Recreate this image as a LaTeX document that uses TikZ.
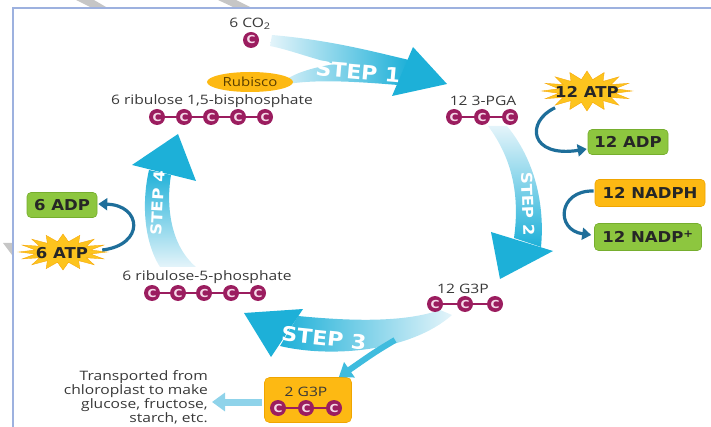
\documentclass[tikz,border=0pt]{standalone}
\usepackage{fontspec}
\setmainfont{Open Sans}[FakeStretch=1.2]
\newfontfamily\heavyfont{DejaVu Sans}[FakeStretch=1.1]
\usetikzlibrary{arrows.meta,calc,shapes.geometric}
\definecolor{StepBlue}{HTML}{1DB0D8}
\definecolor{StepPale}{HTML}{E4F4FA}
\definecolor{CarbonMagenta}{HTML}{9B1D5F}
\definecolor{CarbonPink}{HTML}{F5D9E8}
\definecolor{LeafGreen}{HTML}{8DC63F}
\definecolor{LeafEdge}{HTML}{76AE2E}
\definecolor{AmberOrange}{HTML}{FDB913}
\definecolor{AmberEdge}{HTML}{F0A500}
\definecolor{StarYellow}{HTML}{FDC41E}
\definecolor{StarEdge}{HTML}{F7A90A}
\definecolor{ArrowTeal}{HTML}{1E6E9A}
\definecolor{FrameBlue}{HTML}{9DB1DF}
\definecolor{LabelGray}{HTML}{383838}
\definecolor{RubiscoText}{HTML}{5A3E00}
\definecolor{ExportBlue}{HTML}{8FD3EA}

\tikzset{
  carbon/.style={circle,fill=CarbonMagenta,inner sep=0pt,minimum size=16pt,
    text=CarbonPink,font=\heavyfont\bfseries\fontsize{11}{11}\selectfont},
  chainline/.style={draw=CarbonMagenta,line width=1.2pt},
  molname/.style={text=LabelGray,inner sep=1pt,font=\fontsize{13}{14}\selectfont},
  energy/.style={rounded corners=4pt,inner sep=0pt,text=black!85,
    font=\heavyfont\bfseries\fontsize{15}{15}\selectfont},
  spent/.style={energy,fill=LeafGreen,draw=LeafEdge,line width=0.6pt},
  charged/.style={energy,fill=AmberOrange,draw=AmberEdge,line width=0.6pt},
  steplabel/.style={text=white,inner sep=0pt,font=\heavyfont\bfseries\fontsize{20}{20}\selectfont},
  cofactor/.style={draw=ArrowTeal,line width=3.2pt,-{Triangle[length=9pt,width=12pt]}},
}

% a row of carbon atoms: name, y, list of x
\newcommand{\carbons}[3]{%
  \foreach \cx [count=\ci] in {#3} {\node[carbon] (#1\ci) at (\cx,#2) {C};}
  \foreach \cx [count=\ci, remember=\ci as \cprev (initially 0)] in {#3} {%
    \ifnum\cprev>0 \draw[chainline] (#1\cprev) -- (#1\ci);\fi}
}
% starburst: x, y, rx, ry
\newcommand{\burst}[4]{%
  \fill[StarYellow,draw=StarEdge,line width=0.4pt] (#1+#3,#2)
    \foreach \k in {1,...,31} { -- ({#1+#3*(1-0.36*mod(\k,2))*cos(\k*11.25)},{#2+#4*(1-0.42*mod(\k,2))*sin(\k*11.25)}) } -- cycle;
}

\begin{document}
\begin{tikzpicture}[x=1pt,y=-1pt]
  \useasboundingbox (0,0) rectangle (711,427);
  % frame and scan marks
  \fill[gray!45] (76,0) -- (94,0) -- (106,7) -- (90,7) -- cycle;
  \fill[gray!45] (218,0) -- (236,0) -- (250,7) -- (233,7) -- cycle;
  \fill[gray!45] (3,243) -- (12,243) -- (12,255) -- cycle;
  \draw[FrameBlue,line width=2.2pt] (13,432) |- (716,8);

  % step 1
  \shade[left color=StepPale,right color=StepBlue]
    (272,35) .. controls (330,40) and (375,52) .. (409,60) -- (398,85)
    .. controls (360,82) and (310,78) .. (278,86)
    .. controls (290,74) and (310,68) .. (335,64)
    .. controls (310,58) and (290,50) .. (270,46) -- cycle;
  \fill[StepBlue] (413,47) -- (447,84) -- (392,96) -- cycle;
  % step 2
  \shade[top color=StepPale,bottom color=StepBlue]
    (488,126) -- (507,126) .. controls (535,160) and (545,205) .. (541,247)
    -- (514,238) .. controls (520,195) and (512,158) .. (488,126) -- cycle;
  \fill[StepBlue] (491,232) -- (553,251) -- (500,279) -- cycle;
  % step 3
  \shade[right color=StepPale,left color=StepBlue]
    (440,310) .. controls (400,324) and (340,320) .. (298,316)
    -- (280,346) .. controls (330,358) and (410,352) .. (452,315) -- cycle;
  \fill[StepBlue] (303,309) -- (244,313) -- (271,357) -- cycle;
  % step 4
  \shade[bottom color=StepPale,top color=StepBlue]
    (160,267) .. controls (143,240) and (142,200) .. (149,170)
    -- (171,175) .. controls (166,205) and (170,245) .. (196,267) -- cycle;
  \fill[StepBlue] (132,165) -- (178,134) -- (196,181) -- cycle;

  \node[steplabel,rotate=-5] (stepa) at (358,72) {STEP 1};
  \node[steplabel,rotate=-88,font=\heavyfont\bfseries\fontsize{15}{15}\selectfont] (stepb) at (528,204) {STEP 2};
  \node[steplabel,rotate=-6] (stepc) at (324,338) {STEP 3};
  \node[steplabel,rotate=87,font=\heavyfont\bfseries\fontsize{15}{15}\selectfont] (stepd) at (158,203) {STEP 4};

  % molecules
  \node[molname] (co2lab) at (250,24) {6 CO\textsubscript{2}};
  \carbons{co}{40}{251}
  \node[ellipse,fill=AmberOrange,minimum width=86pt,minimum height=20pt,inner sep=0pt,
    text=RubiscoText,font=\fontsize{12.5}{13}\selectfont] (rubisco) at (250,82) {Rubisco};
  \node[molname] (rubplab) at (212,101) {6 ribulose 1,5-bisphosphate};
  \carbons{rubp}{117}{157,184,211,238,265}
  \node[molname] (pgalab) at (483,101) {12 3-PGA};
  \carbons{pga}{117}{454,482,510}
  \node[molname] (gthreelab) at (463,289) {12 G3P};
  \carbons{gthree}{304}{435,465,495}
  \node[molname] (rufivelab) at (207,277) {6 ribulose-5-phosphate};
  \carbons{rufive}{293}{152,178,204,231,258}

  % export of G3P
  \node[charged,minimum width=87pt,minimum height=45pt,rounded corners=5pt] (exportbox) at (308,400) {};
  \node[molname] (exportlab) at (306,392) {2 G3P};
  \carbons{exp}{408}{278,306,334}
  \coordinate (branch) at (395,340);
  \draw[line width=6pt,StepBlue!85,-{Triangle[length=13pt,width=18pt]}]
    (branch) .. controls (375,352) .. ($(exportbox.north east)+(-13,0)$);
  \node[molname,align=right,anchor=east] (transport) at (209,397)
    {Transported from\\chloroplast to make\\glucose, fructose,\\starch, etc.};
  \draw[line width=7pt,ExportBlue,-{Triangle[length=13pt,width=18pt]}]
    ($(exportbox.west)+(-2,2)$) -- ($(transport.east)+(3,5)$);

  % energy carriers
  \node[spent,minimum width=70pt,minimum height=25pt] (adp6) at (62,205) {6 ADP};
  \burst{63}{252}{44}{18}
  \node[energy] (atp6) at (62,253) {6 ATP};
  \burst{587}{91}{45}{20}
  \node[energy] (atp12) at (587,92) {12 ATP};
  \node[spent,minimum width=80pt,minimum height=25pt] (adp12) at (628,142) {12 ADP};
  \node[charged,minimum width=110pt,minimum height=27pt] (nadph) at (650,193) {12 NADPH};
  \node[spent,minimum width=107pt,minimum height=27pt] (nadp) at (648,237) {12 NADP\textsuperscript{+}};

  \draw[cofactor] ($(atp12.south west)+(0,10)$) .. controls (525,122) and (530,158) .. ($(adp12.west)+(-1,7)$);
  \draw[cofactor] ($(nadph.west)+(-1,-2)$) .. controls (558,190) and (555,230) .. ($(nadp.west)+(-3,-2)$);
  \draw[cofactor] ($(atp6.east)+(14,-3)$) .. controls (145,245) and (142,205) .. ($(adp6.east)+(1,-1)$);
\end{tikzpicture}
\end{document}
